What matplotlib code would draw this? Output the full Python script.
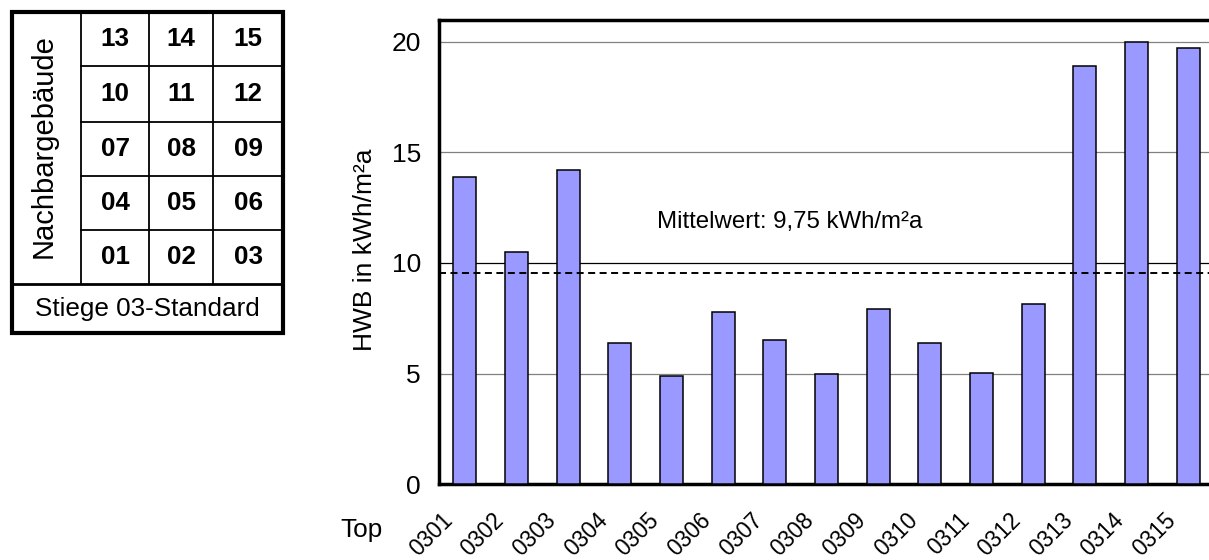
import numpy as np
import matplotlib
matplotlib.use('Agg')
import matplotlib.pyplot as plt
import matplotlib.transforms as mtransforms

plt.rcParams.update({'font.family': ['Liberation Sans', 'DejaVu Sans'],
                     'font.size': 18})

# ---- data ----
tops = ['0301', '0302', '0303', '0304', '0305', '0306', '0307', '0308',
        '0309', '0310', '0311', '0312', '0313', '0314', '0315']
hwb = [13.9, 10.5, 14.2, 6.4, 4.9, 7.8, 6.5, 5.0, 7.9, 6.4, 5.05, 8.15,
       18.9, 20.0, 19.7]
mean_line = 9.55
mean_text = 'Mittelwert: 9,75 kWh/m²a'
yticks = [0, 5, 10, 15, 20]

# building scheme (rows top to bottom)
grid_rows = [['13', '14', '15'],
             ['10', '11', '12'],
             ['07', '08', '09'],
             ['04', '05', '06'],
             ['01', '02', '03']]
side_label = 'Nachbargebäude'
foot_label = 'Stiege 03-Standard'

W, H = 1209, 560
fig = plt.figure(figsize=(W / 100, H / 100), dpi=100)

# ---- main bar chart (right edge runs past the figure, as in the source) ----
ax = fig.add_axes([439 / W, (H - 484.3) / H, 775 / W, (484.3 - 19.5) / H])
x = np.arange(len(tops))
ax.bar(x, hwb, width=0.44, color='#9999FF', edgecolor='black', linewidth=1.1,
       zorder=3)
ax.set_xlim(-0.5, len(tops) - 0.5)
ax.set_ylim(0, 21)
ax.set_yticks(yticks)
ax.tick_params(axis='y', length=0, pad=13, labelsize=19)
ax.yaxis.grid(True, color='#808080', lw=0.9, zorder=0)
for gl, v in zip(ax.get_ygridlines(), yticks):
    if v == 10:
        gl.set_color('black')
ax.axhline(mean_line, color='black', lw=1.4, dashes=(3.6, 2.3), zorder=4)
ax.text(6.28, 11.58, mean_text, ha='center', va='baseline', fontsize=17.3)
ax.set_ylabel('HWB in kWh/m²a', fontsize=19, va='center')
ax.yaxis.set_label_coords(-0.096, 0.504)

ax.set_xticks(x)
ax.set_xticklabels(tops, rotation=45, ha='right', va='top',
                   rotation_mode='anchor', fontsize=16.3)
ax.tick_params(axis='x', length=0, pad=0)
off = mtransforms.ScaledTranslation(-24 / 100, -24 / 100, fig.dpi_scale_trans)
for lab in ax.get_xticklabels():
    lab.set_transform(lab.get_transform() + off)

for s in ['left', 'bottom', 'top']:
    ax.spines[s].set_linewidth(2.5)
ax.spines['right'].set_visible(False)

fig.text(382.7 / W, 1 - 536.5 / H, 'Top', ha='right', va='baseline',
         fontsize=18.8)

# ---- building scheme on the left, drawn in pixel coordinates ----
tx = fig.add_axes([0, 0, 1, 1])
tx.set_xlim(0, W)
tx.set_ylim(H, 0)
tx.axis('off')
col_x = [81, 149, 213.3, 283]
row_y = [12, 66, 121.7, 176, 230, 284]
for xv in col_x[:-1]:
    tx.plot([xv, xv], [row_y[0], row_y[-1]], color='black', lw=1.3)
for yv in row_y[1:-1]:
    tx.plot([col_x[0], col_x[-1]], [yv, yv], color='black', lw=1.3)
tx.plot([12, 283], [284, 284], color='black', lw=2.0)
tx.add_patch(plt.Rectangle((12, 12), 271, 321, fill=False, edgecolor='black',
                           lw=3.0))
for i, row in enumerate(grid_rows):
    for j, lab in enumerate(row):
        tx.text((col_x[j] + col_x[j + 1]) / 2, (row_y[i] + row_y[i + 1]) / 2,
                lab, ha='center', va='center', fontsize=18.7,
                fontweight='bold')
tx.text(44, 146, side_label, rotation=90, ha='center', va='center',
        fontsize=21)
tx.text(147.5, 309, foot_label, ha='center', va='center', fontsize=18.8)

fig.savefig('out.png', dpi=100)
